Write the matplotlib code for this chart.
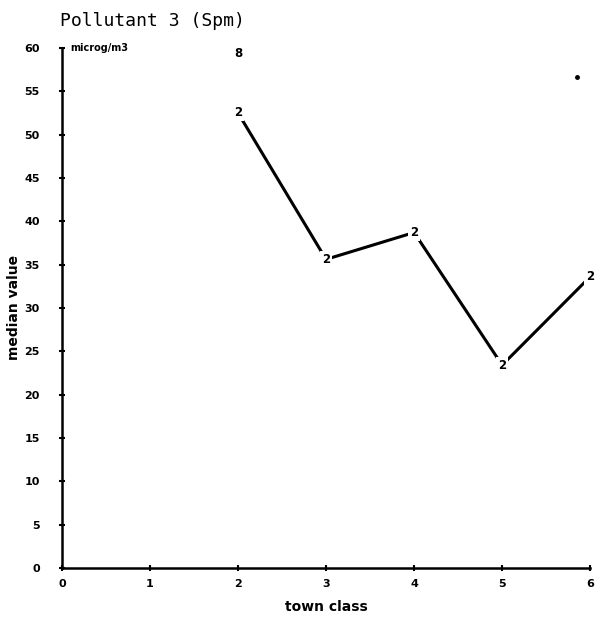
import matplotlib
matplotlib.use("Agg")
import matplotlib.pyplot as plt

# town class vs median value, series symbol "2"
town_class = [2, 3, 4, 5, 6]
median_value = [52.5, 35.6, 38.7, 23.4, 33.6]

# stray symbols near the top of the plot
extra_x = [2]
extra_y = [59.3]
extra_sym = ["8"]
dot_x = [5.85]
dot_y = [56.6]

x_ticks = [0, 1, 2, 3, 4, 5, 6]
y_ticks = [0, 5, 10, 15, 20, 25, 30, 35, 40, 45, 50, 55, 60]

fig = plt.figure(figsize=(6.01, 6.22), dpi=100)
ax = fig.add_axes([0.103, 0.087, 0.879, 0.836])

ax.plot(town_class, median_value, color="black", lw=2.2, solid_capstyle="round", zorder=2)
for xv, yv in zip(town_class, median_value):
    ax.text(xv, yv, "2", ha="center", va="center", fontsize=8.5, fontweight="bold",
            bbox=dict(facecolor="white", edgecolor="none", pad=1.2), zorder=3)
for xv, yv, s in zip(extra_x, extra_y, extra_sym):
    ax.text(xv, yv, s, ha="center", va="center", fontsize=8.5, fontweight="bold")
ax.plot(dot_x, dot_y, "o", color="black", ms=2.5)

ax.set_xlim(0, 6)
ax.set_ylim(0, 60)
ax.set_xticks(x_ticks)
ax.set_yticks(y_ticks)
ax.set_xticklabels([str(v) for v in x_ticks], fontsize=8, fontweight="bold")
ax.set_yticklabels([str(v) for v in y_ticks], fontsize=8, fontweight="bold")
ax.tick_params(direction="inout", length=4, width=1.5)
ax.tick_params(axis="x", pad=6)
ax.tick_params(axis="y", pad=14)

for side in ["top", "right"]:
    ax.spines[side].set_visible(False)
for side in ["left", "bottom"]:
    ax.spines[side].set_linewidth(1.8)

ax.set_xlabel("town class", fontsize=10, fontweight="bold", labelpad=8)
ax.set_ylabel("median value", fontsize=10, fontweight="bold", labelpad=2)

ax.text(0.015, 1.0, "microg/m3", transform=ax.transAxes, fontsize=7, fontweight="bold",
        ha="left", va="center")
fig.text(0.1, 0.967, "Pollutant 3 (Spm)", fontsize=13, family="DejaVu Sans Mono",
         ha="left", va="center")

fig.savefig("out.png", dpi=100)
